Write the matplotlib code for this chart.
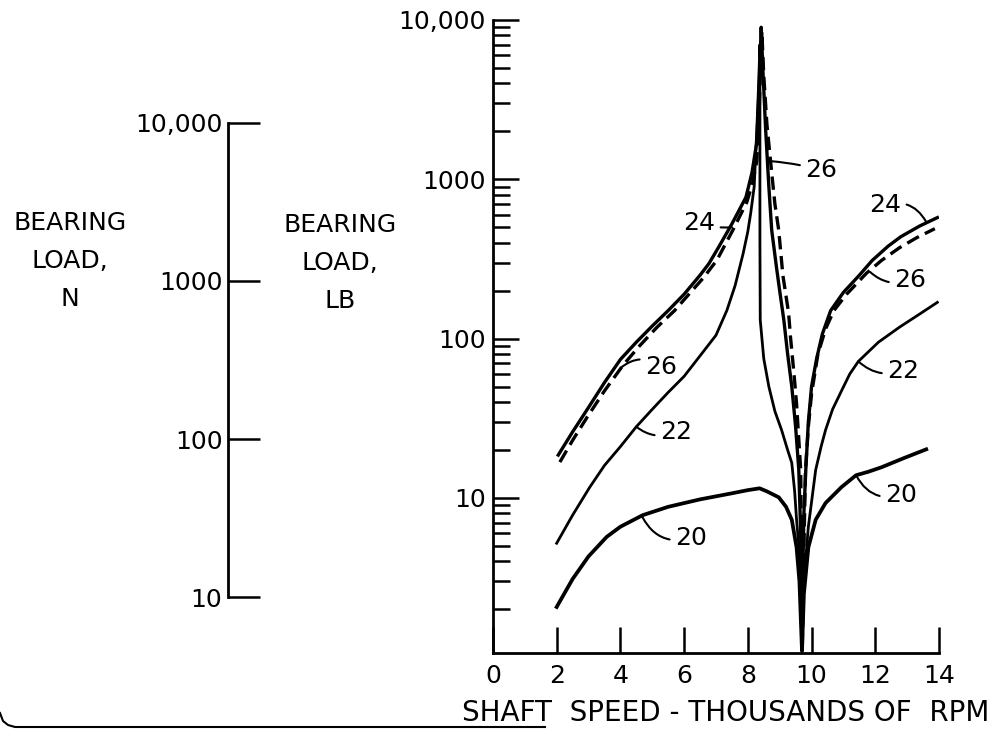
import numpy as np
import matplotlib.pyplot as plt
from matplotlib.lines import Line2D
from matplotlib.ticker import FixedLocator, NullFormatter

# bearing load (lb) against shaft speed (thousands of rpm)
speed_24 = [2.05, 2.5, 3.0, 3.5, 4.0, 4.5, 5.0, 5.5, 6.0, 6.5, 6.78, 7.1, 7.5, 7.94, 8.13,
            8.28, 8.35, 8.42, 8.47, 8.56, 8.66, 8.75, 8.9, 9.0, 9.13, 9.25, 9.38, 9.5, 9.6,
            9.66, 9.7, 9.72, 9.76, 9.82, 9.9, 10.0, 10.16, 10.34, 10.6, 11.0, 11.5, 11.9,
            12.4, 12.8, 13.4, 13.95]
load_24 = [18.6, 26, 37, 53, 74, 95, 120, 150, 190, 250, 296, 380, 525, 771, 1100,
           1700, 3500, 9000, 5000, 2040, 900, 479, 280, 200, 131, 80, 50, 28, 15,
           6, 1.1, 3, 8, 15, 30, 50, 75, 107, 150, 195, 250, 309,
           380, 436, 510, 575]

speed_26 = [2.1, 2.5, 2.95, 3.5, 4.08, 4.6, 5.15, 5.7, 6.18, 6.6, 7.03, 7.53, 7.97, 8.15,
            8.28, 8.35, 8.4, 8.44, 8.5, 8.6, 8.72, 8.85, 8.97, 9.1, 9.28, 9.34, 9.45, 9.53,
            9.66, 9.71, 9.74, 9.81, 9.9, 10.0, 10.2, 10.44, 10.7, 11.1, 11.72, 12.2, 12.76,
            13.3, 13.87]
load_26 = [16.8, 23, 32, 47, 68, 90, 118, 150, 193, 240, 311, 480, 720, 950,
           1300, 2500, 5000, 8500, 4500, 2200, 1260, 700, 479, 250, 145, 102, 60, 39,
           15, 1.1, 3, 15, 28, 45, 80, 115, 150, 190, 257, 310, 372,
           430, 490]

speed_22 = [2.0, 2.5, 3.04, 3.5, 4.0, 4.5, 5.0, 5.5, 6.0, 6.5, 7.0, 7.34, 7.6, 7.85, 8.0,
            8.09, 8.2, 8.28, 8.34, 8.38, 8.38, 8.38, 8.39, 8.5, 8.66, 8.85, 9.06, 9.25,
            9.38, 9.47, 9.53, 9.62, 9.7, 9.76, 9.9, 10.13, 10.3, 10.44, 10.66, 10.94, 11.2,
            11.47, 12.1, 12.76, 13.4, 13.95]
load_22 = [5.2, 7.8, 11.7, 16, 21, 28, 36, 46, 58, 78, 105, 150, 215, 340, 470,
           612, 900, 2000, 4000, 7000, 1500, 400, 131, 75, 50, 35, 26.7, 20,
           16.6, 11, 7.3, 4.5, 1.1, 3, 6.6, 15, 21, 26.7, 36, 47, 60,
           72, 95, 118, 143, 169]

speed_20 = [2.0, 2.5, 3.0, 3.57, 4.0, 4.7, 5.5, 6.5, 7.5, 8.0, 8.37, 8.6, 8.97, 9.2, 9.38,
            9.53, 9.62, 9.7, 9.76, 9.9, 10.13, 10.44, 10.94, 11.4, 11.78, 12.2, 12.9,
            13.6]
load_20 = [2.07, 3.1, 4.3, 5.7, 6.6, 7.8, 8.8, 9.8, 10.7, 11.2, 11.5, 11.0, 10.1, 8.8, 7.3,
           4.9, 3.0, 1.1, 2.5, 4.9, 7.3, 9.3, 11.7, 13.9, 14.6, 15.6, 17.8,
           20.2]

speed_ticks = [0, 2, 4, 6, 8, 10, 12, 14]
load_ticks = [10, 100, 1000, 10000]
load_tick_labels = ["10", "100", "1000", "10,000"]
N_PER_LB = 4.448

# curve callouts: text, point on curve, text centre, leader bend
callout_text = ["24", "26", "22", "20", "26", "24", "26", "22", "20"]
callout_xy = [(7.5, 500), (4.03, 66), (4.5, 28), (4.69, 7.6), (8.72, 1300),
              (13.6, 540), (11.84, 262), (11.47, 72), (11.4, 13.9)]
callout_pos = [(6.47, 530), (5.28, 66), (5.75, 26), (6.22, 5.6), (10.31, 1138),
               (12.31, 687), (13.1, 233), (12.88, 63), (12.81, 10.4)]
callout_rad = [0.1, 0.4, -0.3, -0.4, 0.05, -0.4, -0.3, -0.3, -0.4]

plt.rcParams["font.family"] = "DejaVu Sans"

fig = plt.figure(figsize=(10.05, 7.32), dpi=100)
ax = fig.add_axes([0.4905, 0.1079, 0.4438, 0.8648])
ax.set_yscale("log")

ax.plot(speed_24, load_24, color="black", lw=2.4)
ax.plot(speed_26, load_26, color="black", lw=2.4, dashes=(4, 2))
ax.plot(speed_22, load_22, color="black", lw=2.0)
ax.plot(speed_20, load_20, color="black", lw=2.7)

ax.set_xlim(0, 14)
ax.set_ylim(1.064, 10000)

for s in ["top", "right"]:
    ax.spines[s].set_visible(False)
for s in ["left", "bottom"]:
    ax.spines[s].set_linewidth(2)

ax.xaxis.set_major_locator(FixedLocator(speed_ticks))
ax.set_xticklabels([str(v) for v in speed_ticks])
ax.yaxis.set_major_locator(FixedLocator(load_ticks))
ax.set_yticklabels(load_tick_labels)
minor = [m * 10 ** e for e in range(0, 4) for m in range(2, 10)]
ax.yaxis.set_minor_locator(FixedLocator(minor))
ax.yaxis.set_minor_formatter(NullFormatter())
ax.tick_params(axis="x", direction="in", length=19, width=1.8, pad=8, labelsize=18)
ax.tick_params(axis="y", which="major", direction="in", length=19, width=1.8, pad=5, labelsize=18)
ax.tick_params(axis="y", which="minor", direction="in", length=12, width=1.8)

ax.set_xlabel("SHAFT  SPEED - THOUSANDS OF  RPM", fontsize=20)
ax.xaxis.set_label_coords(0.522, -0.072)

for t, xy, pos, rad in zip(callout_text, callout_xy, callout_pos, callout_rad):
    ax.annotate(t, xy=xy, xytext=pos, ha="center", va="center", fontsize=18,
                arrowprops=dict(arrowstyle="-", lw=1.5, color="black",
                                connectionstyle="arc3,rad=%g" % rad,
                                shrinkA=2, shrinkB=0))

# separate newton scale on the left
axn = fig.add_axes([0.2269, 0.1079, 0.001, 0.8648])
axn.set_yscale("log")
axn.set_ylim(1.0 * N_PER_LB, 10000 * N_PER_LB)
axn.set_xticks([])
for s in ["top", "right", "bottom"]:
    axn.spines[s].set_visible(False)
axn.spines["left"].set_bounds(10, 10000)
axn.spines["left"].set_linewidth(2)
axn.yaxis.set_major_locator(FixedLocator(load_ticks))
axn.set_yticklabels(load_tick_labels)
axn.yaxis.set_minor_locator(FixedLocator([]))
axn.tick_params(axis="y", direction="in", length=23, width=1.8, pad=4, labelsize=18)
axn.patch.set_visible(False)

fig.text(70 / 1005, 1 - 261 / 732, "BEARING\nLOAD,\nN", ha="center", va="center",
         fontsize=18, linespacing=1.75)
fig.text(340 / 1005, 1 - 263 / 732, "BEARING\nLOAD,\nLB", ha="center", va="center",
         fontsize=18, linespacing=1.75)

# border stroke at the lower left of the sheet
bx = np.array([0, 3, 8, 15, 545]) / 1005
by = 1 - np.array([713, 721, 725, 727, 727]) / 732
fig.add_artist(Line2D(bx, by, color="black", lw=1.5))

fig.savefig("out.png", dpi=100, facecolor="white")
